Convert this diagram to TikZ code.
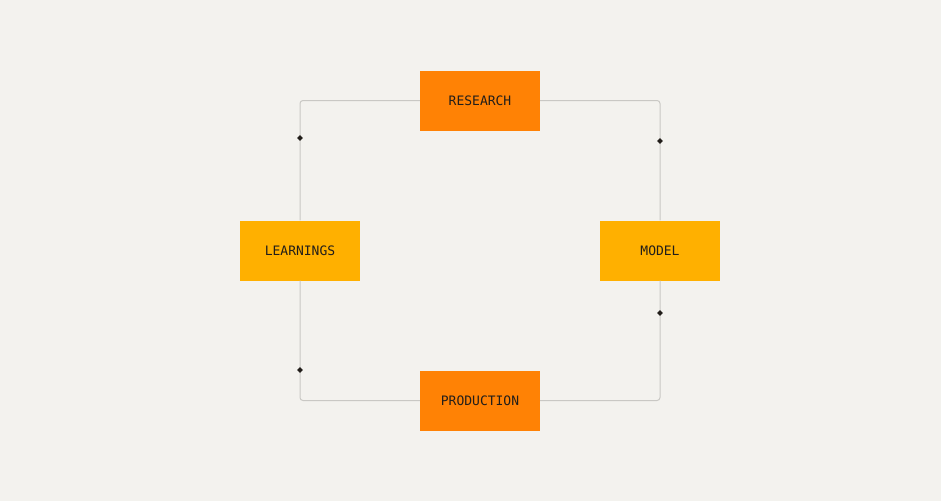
\documentclass[tikz,border=0pt]{standalone}
\usepackage{fontspec}
\setmonofont{DejaVu Sans Mono}
\usetikzlibrary{shapes.geometric}
\definecolor{bg}{HTML}{F3F2EE}
\definecolor{deeporange}{HTML}{FF8205}
\definecolor{amber}{HTML}{FFB000}
\definecolor{wire}{HTML}{C9C8C4}
\definecolor{ink}{HTML}{221E1A}
\tikzset{
  stage/.style={rectangle, minimum width=120pt, minimum height=60pt, inner sep=0pt,
    font=\ttfamily\fontsize{13}{15}\selectfont, text=ink},
  primary/.style={stage, fill=deeporange},
  secondary/.style={stage, fill=amber},
  wireline/.style={draw=wire, line width=1pt, rounded corners=3pt},
  knot/.style={diamond, fill=ink, inner sep=0pt, minimum width=6pt, minimum height=6pt}
}
\begin{document}
\begin{tikzpicture}[x=1pt,y=-1pt]
\fill[bg] (0,0) rectangle (941,501);
\useasboundingbox (0,0) rectangle (941,501);
\node[primary] (research) at (480,100.5) {RESEARCH};
\node[secondary] (learnings) at (300,250.5) {LEARNINGS};
\node[secondary] (model) at (660,250.5) {MODEL};
\node[primary] (production) at (480,400.5) {PRODUCTION};
\draw[wireline] (research.west) -| (learnings.north);
\draw[wireline] (learnings.south) |- (production.west);
\draw[wireline] (production.east) -| (model.south);
\draw[wireline] (model.north) |- (research.east);
\node[knot] (k1) at (300,138) {};
\node[knot] (k2) at (660,141) {};
\node[knot] (k3) at (660,313) {};
\node[knot] (k4) at (300,370) {};
\end{tikzpicture}
\end{document}
